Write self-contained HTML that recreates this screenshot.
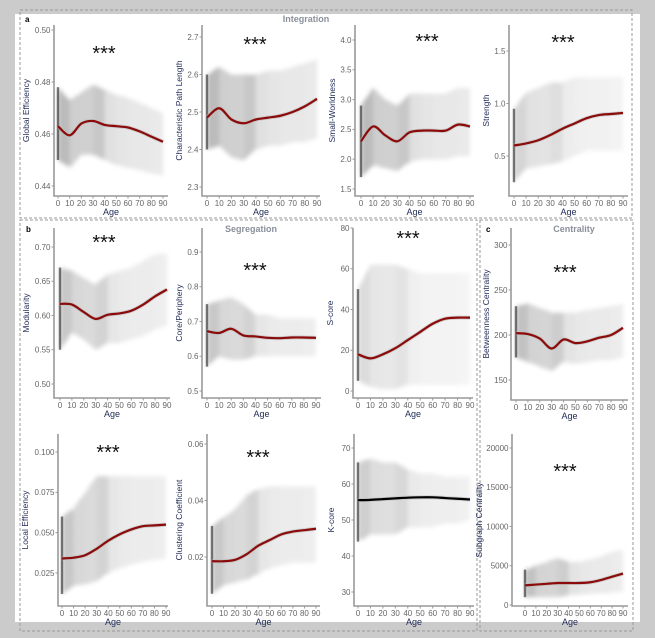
<!DOCTYPE html>
<html><head><meta charset="utf-8">
<style>
html,body{margin:0;padding:0;background:#cbcbcb;}
svg{display:block;font-family:"Liberation Sans",sans-serif;}
</style></head>
<body>
<svg id="fig" width="655" height="638" viewBox="0 0 655 638">
<defs>
<pattern id="dots" width="5" height="5" patternUnits="userSpaceOnUse">
<circle cx="1" cy="1" r="0.8" fill="#000"/><circle cx="3.6" cy="2.4" r="0.7" fill="#000"/><circle cx="2" cy="4" r="0.6" fill="#000"/>
</pattern>
<filter id="soft" x="-10%" y="-10%" width="120%" height="120%"><feGaussianBlur stdDeviation="2.2"/></filter>
</defs>
<rect x="15" y="14" width="625" height="608" fill="#fff"/>
<rect x="20" y="10" width="612" height="208" fill="none" stroke="#999" stroke-dasharray="3,2"/>
<rect x="20" y="220" width="457" height="411" fill="none" stroke="#999" stroke-dasharray="3,2"/>
<rect x="480" y="220" width="153" height="411" fill="none" stroke="#999" stroke-dasharray="3,2"/>
<text x="25" y="22" font-size="8" font-weight="bold">a</text>
<text x="306" y="22" font-size="9" font-weight="bold" fill="#8a8f9a" text-anchor="middle">Integration</text>
<text x="26" y="232" font-size="8" font-weight="bold">b</text>
<text x="251" y="232" font-size="9" font-weight="bold" fill="#8a8f9a" text-anchor="middle">Segregation</text>
<text x="486" y="232" font-size="8" font-weight="bold">c</text>
<text x="574" y="232" font-size="9" font-weight="bold" fill="#8a8f9a" text-anchor="middle">Centrality</text>
<g id="plots"></g>
</svg>
<script>
const ages=[0,10,20,30,40,50,60,70,80,90];
const ageTicks=[0,10,20,30,40,50,60,70,80,90];
const cloudDensity=[0.6,0.42,0.4,0.48,0.26,0.22,0.2,0.2,0.18,0.16];

const geTrend=[0.463,0.4595,0.464,0.465,0.4635,0.463,0.4625,0.461,0.459,0.457];
const geLo=[0.450,0.447,0.452,0.452,0.450,0.448,0.447,0.446,0.445,0.444];
const geHi=[0.478,0.473,0.476,0.479,0.477,0.475,0.474,0.472,0.470,0.468];
const geTicks=[0.44,0.46,0.48,0.50];

const cplTrend=[2.485,2.51,2.48,2.47,2.48,2.485,2.49,2.50,2.515,2.535];
const cplLo=[2.40,2.41,2.38,2.37,2.40,2.41,2.41,2.42,2.42,2.43];
const cplHi=[2.60,2.62,2.60,2.60,2.60,2.61,2.61,2.62,2.63,2.64];
const cplTicks=[2.3,2.4,2.5,2.6,2.7];

const swTrend=[2.3,2.55,2.4,2.3,2.45,2.48,2.48,2.48,2.58,2.55];
const swLo=[1.7,1.9,1.85,1.8,1.95,2.0,2.0,2.0,2.05,2.05];
const swHi=[2.9,3.2,3.0,2.9,3.1,3.1,3.1,3.1,3.2,3.2];
const swTicks=[1.5,2.0,2.5,3.0,3.5,4.0];

const stTrend=[0.60,0.62,0.65,0.70,0.76,0.81,0.86,0.89,0.90,0.91];
const stLo=[0.25,0.38,0.40,0.42,0.45,0.50,0.55,0.55,0.55,0.55];
const stHi=[0.95,1.1,1.15,1.2,1.2,1.25,1.25,1.25,1.25,1.25];
const stTicks=[0.5,1.0,1.5];

const moTrend=[0.617,0.616,0.605,0.595,0.601,0.603,0.607,0.616,0.628,0.638];
const moLo=[0.55,0.575,0.565,0.55,0.56,0.56,0.565,0.57,0.58,0.585];
const moHi=[0.67,0.665,0.655,0.645,0.66,0.665,0.67,0.68,0.69,0.69];
const moTicks=[0.50,0.55,0.60,0.65,0.70];

const cpTrend=[0.672,0.667,0.679,0.66,0.657,0.653,0.652,0.654,0.654,0.653];
const cpLo=[0.57,0.60,0.59,0.59,0.60,0.60,0.60,0.60,0.60,0.60];
const cpHi=[0.75,0.76,0.77,0.75,0.72,0.72,0.71,0.71,0.71,0.71];
const cpTicks=[0.5,0.6,0.7,0.8,0.9];

const scTrend=[18,16,18,21,25,29,33,35.5,36,36];
const scLo=[5,2,1,1,3,3,3,3,3,3];
const scHi=[50,62,62,62,60,58,58,58,58,58];
const scTicks=[0,20,40,60,80];

const leTrend=[0.034,0.0345,0.036,0.040,0.045,0.049,0.052,0.054,0.0545,0.055];
const leLo=[0.012,0.017,0.018,0.02,0.025,0.028,0.03,0.032,0.033,0.034];
const leHi=[0.06,0.065,0.075,0.085,0.085,0.085,0.085,0.085,0.085,0.085];
const leTicks=[0.025,0.050,0.075,0.100];

const ccTrend=[0.0185,0.0185,0.019,0.021,0.024,0.026,0.028,0.029,0.0295,0.030];
const ccLo=[0.007,0.010,0.011,0.012,0.014,0.016,0.017,0.018,0.018,0.018];
const ccHi=[0.031,0.034,0.037,0.042,0.044,0.045,0.045,0.045,0.045,0.045];
const ccTicks=[0.02,0.04,0.06];

const kcTrend=[55.5,55.6,55.8,56,56.2,56.3,56.3,56.1,55.9,55.7];
const kcLo=[44,46,46,46,48,48,48,49,49,50];
const kcHi=[66,67,66,66,64,63,63,62,62,62];
const kcTicks=[30,40,50,60,70];

const bcTrend=[202,201,196,185,195,191,193,197,200,208];
const bcLo=[175,170,165,160,170,168,170,172,172,175];
const bcHi=[232,235,230,225,225,225,228,230,232,235];
const bcTicks=[150,200,250,300];

const sgTrend=[2500,2600,2700,2800,2800,2800,2900,3200,3600,4000];
const sgLo=[1000,1000,1000,1000,1200,1300,1400,1500,1600,1700];
const sgHi=[4500,5000,5500,6000,5500,5500,5800,6200,6800,7000];
const sgTicks=[0,5000,10000,15000,20000];

const NS='http://www.w3.org/2000/svg';
const root=document.getElementById('plots');
function mk(tag,attrs,parent){const e=document.createElementNS(NS,tag);for(const k in attrs)e.setAttribute(k,attrs[k]);parent.appendChild(e);return e;}
function smooth(pts){let d='M'+pts[0][0]+','+pts[0][1];for(let i=0;i<pts.length-1;i++){const p0=pts[Math.max(0,i-1)],p1=pts[i],p2=pts[i+1],p3=pts[Math.min(pts.length-1,i+2)];d+=' C'+(p1[0]+(p2[0]-p0[0])/6)+','+(p1[1]+(p2[1]-p0[1])/6)+' '+(p2[0]-(p3[0]-p1[0])/6)+','+(p2[1]-(p3[1]-p1[1])/6)+' '+p2[0]+','+p2[1];}return d;}

function panel(c){
  const g=mk('g',{},root);
  
  
  const sx=a=>c.xa0+(a/90)*(c.xa90-c.xa0);
  const sy=v=>c.yp[0]+(v-c.yv[0])*(c.yp[1]-c.yp[0])/(c.yv[1]-c.yv[0]);
  const cg=mk('g',{filter:'url(#soft)'},g);
  
  
  for(let i=0;i<ages.length-1;i++){
    const pts=[[sx(ages[i]),sy(c.hi[i])],[sx(ages[i+1]),sy(c.hi[i+1])],[sx(ages[i+1]),sy(c.lo[i+1])],[sx(ages[i]),sy(c.lo[i])]];
    const p=mk('polygon',{points:pts.map(q=>q.join(',')).join(' '),fill:'url(#dots)','fill-opacity':cloudDensity[i]*c.dens,stroke:'none'},cg);
    
    
    const p2=mk('polygon',{points:pts.map(q=>q.join(',')).join(' '),fill:'#000','fill-opacity':cloudDensity[i]*c.dens*0.3,stroke:'none'},cg);
    
    
  }
  const strip=mk('rect',{x:sx(0)-1.2,y:sy(c.hi[0]),width:2.4,height:sy(c.lo[0])-sy(c.hi[0]),fill:'#222','fill-opacity':0.6},g);
  
  
  const ax=mk('path',{d:'M'+c.axX+','+c.top+' V'+c.axY+' H'+c.right,fill:'none',stroke:'#999','stroke-width':1.6},g);
  
  
  c.ticks.forEach(t=>{
    const y=sy(t);
    const tk=mk('line',{x1:c.axX-2.5,x2:c.axX,y1:y,y2:y,stroke:'#999'},g);
    
    
    const tx=mk('text',{x:c.axX-3.5,y:y+2.8,'font-size':8,fill:'#666','text-anchor':'end'},g);
    
    
    tx.textContent=t.toFixed(c.dec);
  });
  ageTicks.forEach(a=>{
    const x=sx(a);
    const tk=mk('line',{x1:x,x2:x,y1:c.axY,y2:c.axY+2.5,stroke:'#999'},g);
    
    
    const tx=mk('text',{x:x,y:c.axY+10,'font-size':8,fill:'#666','text-anchor':'middle'},g);
    
    
    tx.textContent=a;
  });
  const xt=mk('text',{x:(c.axX+c.right)/2,y:c.axY+19,'font-size':9,fill:'#1e2a55','text-anchor':'middle'},g);
  
  
  xt.textContent='Age';
  const cy=(c.top+c.axY)/2, cx=c.axX-c.tOff;
  const yt=mk('text',{x:cx,y:cy,'font-size':8.5,fill:'#1e2a55','text-anchor':'middle',transform:'rotate(-90 '+cx+' '+cy+')'},g);
  
  
  yt.textContent=c.title;
  const pts=ages.map((a,i)=>[sx(a),sy(c.trend[i])]);
  const rib=mk('path',{d:smooth(pts),fill:'none',stroke:'#bbb','stroke-width':4,'stroke-opacity':0.6},g);
  
  
  const ln=mk('path',{d:smooth(pts),fill:'none',stroke:c.color,'stroke-width':2.2},g);
  
  
  if(c.star){
    const st=mk('text',{x:c.star[0],y:c.star[1],'font-size':20,fill:'#111','text-anchor':'middle'},g);
    
    
    st.textContent='***';
  }
}
const R='#8b0a0a';
panel({id:'global-efficiency',title:'Global Efficiency',trend:geTrend,lo:geLo,hi:geHi,ticks:geTicks,dec:2,axX:54,axY:196,top:25,right:168,xa0:58,xa90:163,yv:[0.44,0.50],yp:[186,30],tOff:25,color:R,dens:1,star:[104,60]});
panel({id:'char-path-length',title:'Characteristic Path Length',trend:cplTrend,lo:cplLo,hi:cplHi,ticks:cplTicks,dec:1,axX:202,axY:196,top:25,right:320,xa0:207,xa90:317,yv:[2.3,2.7],yp:[187,37],tOff:20,color:R,dens:1,star:[255,51]});
panel({id:'small-worldness',title:'Small-Worldness',trend:swTrend,lo:swLo,hi:swHi,ticks:swTicks,dec:1,axX:355,axY:196,top:25,right:474,xa0:361,xa90:470,yv:[1.5,4.0],yp:[189,40],tOff:20,color:R,dens:1,star:[427,48]});
panel({id:'strength',title:'Strength',trend:stTrend,lo:stLo,hi:stHi,ticks:stTicks,dec:1,axX:509,axY:196,top:25,right:628,xa0:514,xa90:623,yv:[0.5,1.5],yp:[156,51],tOff:20,color:R,dens:0.6,star:[563,49]});
panel({id:'modularity',title:'Modularity',trend:moTrend,lo:moLo,hi:moHi,ticks:moTicks,dec:2,axX:54,axY:398,top:228,right:170,xa0:60,xa90:167,yv:[0.50,0.70],yp:[384,247],tOff:25,color:R,dens:0.8,star:[104,249]});
panel({id:'core-periphery',title:'Core/Periphery',trend:cpTrend,lo:cpLo,hi:cpHi,ticks:cpTicks,dec:1,axX:202,axY:398,top:228,right:321,xa0:207,xa90:316,yv:[0.5,0.9],yp:[391,252],tOff:20,color:R,dens:0.8,star:[255,277]});
panel({id:'s-core',title:'S-core',trend:scTrend,lo:scLo,hi:scHi,ticks:scTicks,dec:0,axX:353,axY:398,top:228,right:473,xa0:358,xa90:470,yv:[0,80],yp:[391,228],tOff:20,color:R,dens:0.5,star:[408,245]});
panel({id:'local-efficiency',title:'Local Efficiency',trend:leTrend,lo:leLo,hi:leHi,ticks:leTicks,dec:3,axX:58,axY:606,top:434,right:168,xa0:62,xa90:166,yv:[0.025,0.1],yp:[573,452],tOff:30,color:R,dens:0.8,star:[108,459]});
panel({id:'clustering-coefficient',title:'Clustering Coefficient',trend:ccTrend,lo:ccLo,hi:ccHi,ticks:ccTicks,dec:2,axX:207,axY:606,top:434,right:320,xa0:212,xa90:316,yv:[0.02,0.06],yp:[557,444],tOff:25,color:R,dens:0.8,star:[258,464]});
panel({id:'k-core',title:'K-core',trend:kcTrend,lo:kcLo,hi:kcHi,ticks:kcTicks,dec:0,axX:354,axY:606,top:434,right:474,xa0:358,xa90:470,yv:[30,70],yp:[592,448],tOff:20,color:'#000',dens:0.7,star:null});
panel({id:'betweenness-centrality',title:'Betweenness Centrality',trend:bcTrend,lo:bcLo,hi:bcHi,ticks:bcTicks,dec:0,axX:511,axY:400,top:228,right:628,xa0:516,xa90:623,yv:[150,300],yp:[380,245],tOff:22,color:R,dens:0.9,star:[565,279]});
panel({id:'subgraph-centrality',title:'Subgraph Centrality',trend:sgTrend,lo:sgLo,hi:sgHi,ticks:sgTicks,dec:0,axX:512,axY:606,top:434,right:628,xa0:525,xa90:623,yv:[0,20000],yp:[605,448],tOff:30,color:R,dens:0.9,star:[565,478]});
</script>
</body></html>
